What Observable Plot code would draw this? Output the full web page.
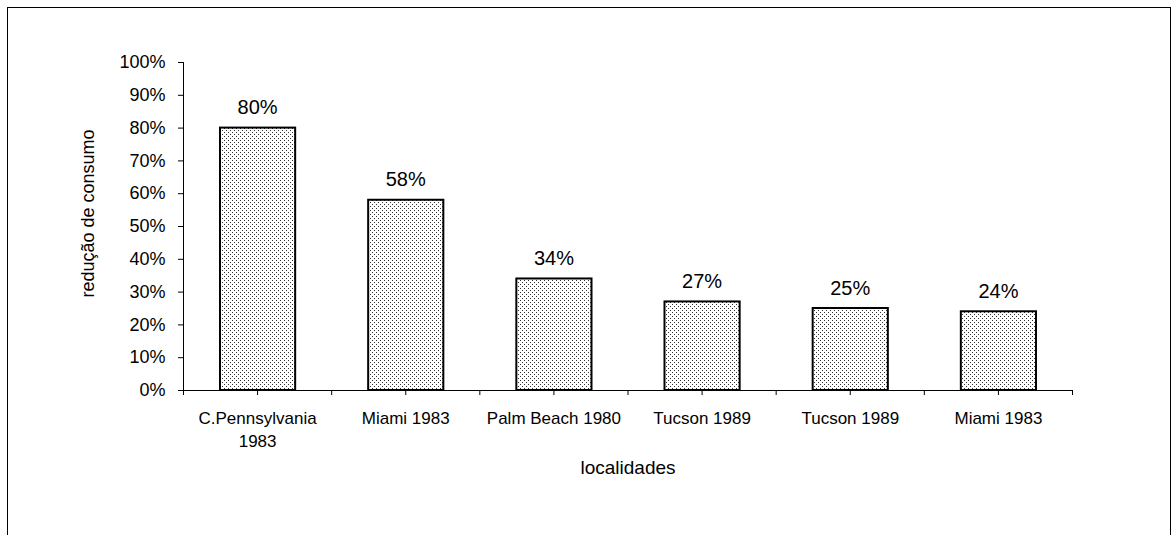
<!DOCTYPE html>
<html>
<head>
<meta charset="utf-8">
<script src="https://cdn.jsdelivr.net/npm/d3@7"></script>
<script src="https://cdn.jsdelivr.net/npm/@observablehq/plot@0.6"></script>
<style>
  html, body { margin: 0; padding: 0; background: #fff; overflow: hidden; }
  #wrap { position: relative; width: 1171px; height: 535px; }
  #wrap svg { position: absolute; left: 0; top: 0; }
  #border { position: absolute; left: 7px; top: 7px; width: 1162px; height: 540px; border: 1px solid #000; border-bottom: none; pointer-events: none; }
</style>
</head>
<body>
<div id="wrap"></div>
<script>
// Data
const categories = ["C.Pennsylvania\n1983", "Miami 1983", "Palm Beach 1980", "Tucson 1989", "Tucson 1989", "Miami 1983"];
const values = [0.80, 0.58, 0.34, 0.27, 0.25, 0.24];
const yTicks = [0, 0.1, 0.2, 0.3, 0.4, 0.5, 0.6, 0.7, 0.8, 0.9, 1.0];
const yTitle = "redução de consumo";
const xTitle = "localidades";

const data = values.map((v, i) => ({i, label: categories[i], v}));
const pct = d3.format(".0%");
const xTicks = d3.range(0, categories.length + 0.25, 0.5);

const svg = Plot.plot({
  width: 1171,
  height: 535,
  marginLeft: 183,
  marginRight: 99,
  marginTop: 62,
  marginBottom: 145,
  style: {fontFamily: "'Liberation Sans', Arial, sans-serif", background: "transparent", color: "#000"},
  x: {domain: [0, categories.length], axis: null},
  y: {domain: [0, 1], axis: null},
  marks: [
    Plot.axisY({ticks: yTicks, tickFormat: pct, tickSize: 5, tickPadding: 13, fontSize: 18, label: null, stroke: "#000"}),
    Plot.axisX({ticks: xTicks, tickFormat: d => Number.isInteger(d) ? "" : categories[Math.floor(d)],
      tickSize: 5, tickPadding: 12, fontSize: 17, lineHeight: 1.35, label: null, stroke: "#000"}),
    Plot.rectY(data, {x1: d => d.i, x2: d => d.i + 1, y: "v", insetLeft: 37, insetRight: 36,
      fill: "url(#dots)", stroke: "#000", strokeWidth: 2}),
    Plot.text(data, {x: d => d.i + 0.5, y: "v", text: d => pct(d.v), lineAnchor: "bottom", dy: -14, fontSize: 20, fill: "#000"}),
    Plot.ruleY([0], {stroke: "#000"}),
    Plot.ruleX([0], {stroke: "#000"}),
    Plot.text([yTitle], {frameAnchor: "left", textAnchor: "middle", rotate: -90, dx: -95, dy: -13, fontSize: 18, fill: "#000"}),
    Plot.text([xTitle], {frameAnchor: "bottom", dy: 83, fontSize: 19, fill: "#000"})
  ]
});

svg.insertAdjacentHTML("afterbegin",
  '<defs><pattern id="dots" width="4" height="4" patternUnits="userSpaceOnUse">' +
  '<rect width="4" height="4" fill="#fff"/>' +
  '<rect x="0" y="0" width="1" height="1" fill="#333"/>' +
  '<rect x="2" y="2" width="1" height="1" fill="#333"/>' +
  '</pattern></defs>');

const wrap = document.getElementById("wrap");
wrap.appendChild(svg);
const border = document.createElement("div");
border.id = "border";
wrap.appendChild(border);
</script>
</body>
</html>
